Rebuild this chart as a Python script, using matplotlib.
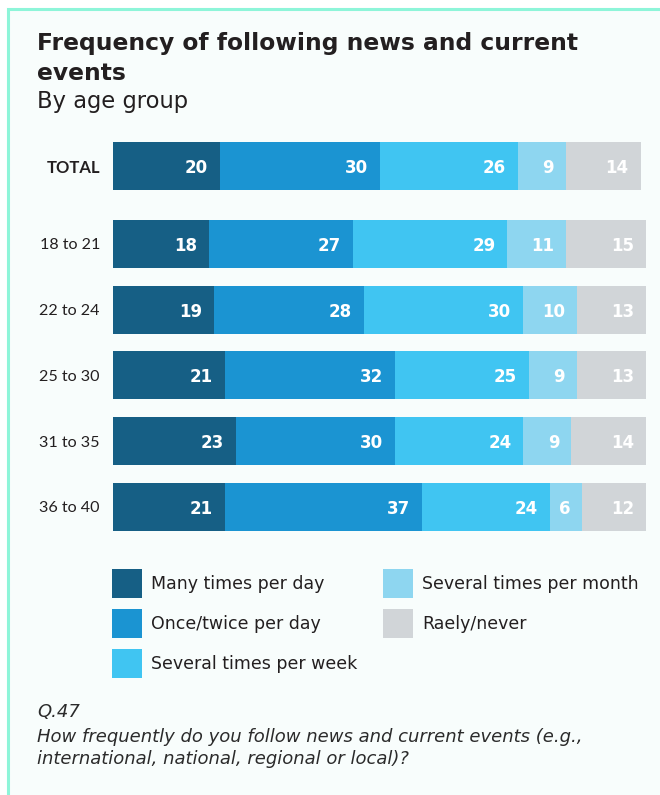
import matplotlib
matplotlib.use("Agg")
import matplotlib.pyplot as plt
from matplotlib.patches import Rectangle
import numpy as np

# ---------------- data ----------------
categories = ["TOTAL", "18 to 21", "22 to 24", "25 to 30", "31 to 35", "36 to 40"]
series_names = ["Many times per day", "Once/twice per day", "Several times per week",
                "Several times per month", "Raely/never"]
many_per_day = [20, 18, 19, 21, 23, 21]
once_twice_day = [30, 27, 28, 32, 30, 37]
several_week = [26, 29, 30, 25, 24, 24]
several_month = [9, 11, 10, 9, 9, 6]
rarely_never = [14, 15, 13, 13, 14, 12]

colors = ["#165F85", "#1B94D2", "#40C5F2", "#8ED6F0", "#D1D5D8"]

W, H = 660, 795
DPI = 100
WIDE = "DejaVu Sans"
LBL = "Lato"
TXT = "#231F20"

fig = plt.figure(figsize=(W / DPI, H / DPI), dpi=DPI, facecolor="white")

# background panel with mint border (top and left visible)
bg = Rectangle((8 / W, -0.01), 1.2, (H - 9) / H + 0.01, transform=fig.transFigure,
               facecolor="#F8FDFC", edgecolor="#8EF5D9", linewidth=2.2, zorder=-10)
fig.patches.append(bg)

def fx(px):
    return px / W

def fy(py):
    return 1 - py / H

# title / subtitle
fig.text(fx(37), fy(50), "Frequency of following news and current", fontsize=16.8,
         fontweight="bold", family=WIDE, color=TXT, va="baseline")
fig.text(fx(37), fy(80), "events", fontsize=16.8, fontweight="bold", family=WIDE,
         color=TXT, va="baseline")
fig.text(fx(37), fy(108), "By age group", fontsize=16.3, family=WIDE, color=TXT,
         va="baseline")

# ---------------- bars ----------------
row_gap = 1.186
positions = np.array([0.0] + [row_gap + i for i in range(len(categories) - 1)])
bar_h = 0.73
top_px, bot_px = 142, 531
ax = fig.add_axes([fx(113), fy(bot_px), (646 - 113) / W, (bot_px - top_px) / H])
ax.set_facecolor("none")

series = [many_per_day, once_twice_day, several_week, several_month, rarely_never]
left = np.zeros(len(categories))
handles = []
for name, vals, col in zip(series_names, series, colors):
    vals = np.array(vals, dtype=float)
    bars = ax.barh(positions, vals, left=left, height=bar_h, color=col, label=name,
                   linewidth=0)
    handles.append(bars)
    for y, l, v in zip(positions, left, vals):
        ax.annotate(f"{int(v)}", xy=(l + v, y), xytext=(-12, 0),
                    textcoords="offset pixels", ha="right", va="center_baseline",
                    fontsize=12, fontweight="bold", family=WIDE, color="white")
    left += vals

ax.set_xlim(0, 100)
ax.set_ylim(positions[-1] + bar_h / 2, positions[0] - bar_h / 2)
ax.set_yticks(positions)
ax.set_yticklabels(categories, family=LBL, fontsize=11.6, color=TXT)
ax.get_yticklabels()[0].set_fontweight("bold")
ax.get_yticklabels()[0].set_fontsize(12)
ax.tick_params(axis="y", length=0, pad=9.4)
ax.set_xticks([])
for s in ax.spines.values():
    s.set_visible(False)

# ---------------- legend (two columns, anchored separately) ----------------
leg_kw = dict(loc="upper left", frameon=False, borderaxespad=0, borderpad=0,
              handlelength=1.73, handleheight=2.2, handletextpad=0.52,
              labelspacing=0.64, prop={"family": WIDE, "size": 12.5})
leg1 = fig.legend(handles=handles[:3], labels=series_names[:3],
                  bbox_to_anchor=(fx(112), fy(569)), **leg_kw)
leg2 = fig.legend(handles=handles[3:], labels=series_names[3:],
                  bbox_to_anchor=(fx(383), fy(569)), **leg_kw)
for lg in (leg1, leg2):
    for t in lg.get_texts():
        t.set_color(TXT)

# ---------------- footer ----------------
foot = "#2B2B2B"
fig.text(fx(37), fy(717), "Q.47", fontsize=13, style="italic", family=WIDE,
         color=foot, va="baseline")
fig.text(fx(37), fy(742), "How frequently do you follow news and current events (e.g.,",
         fontsize=13, style="italic", family=WIDE, color=foot, va="baseline")
fig.text(fx(37), fy(764), "international, national, regional or local)?",
         fontsize=13, style="italic", family=WIDE, color=foot, va="baseline")

fig.savefig("out.png", dpi=DPI, facecolor="white")
